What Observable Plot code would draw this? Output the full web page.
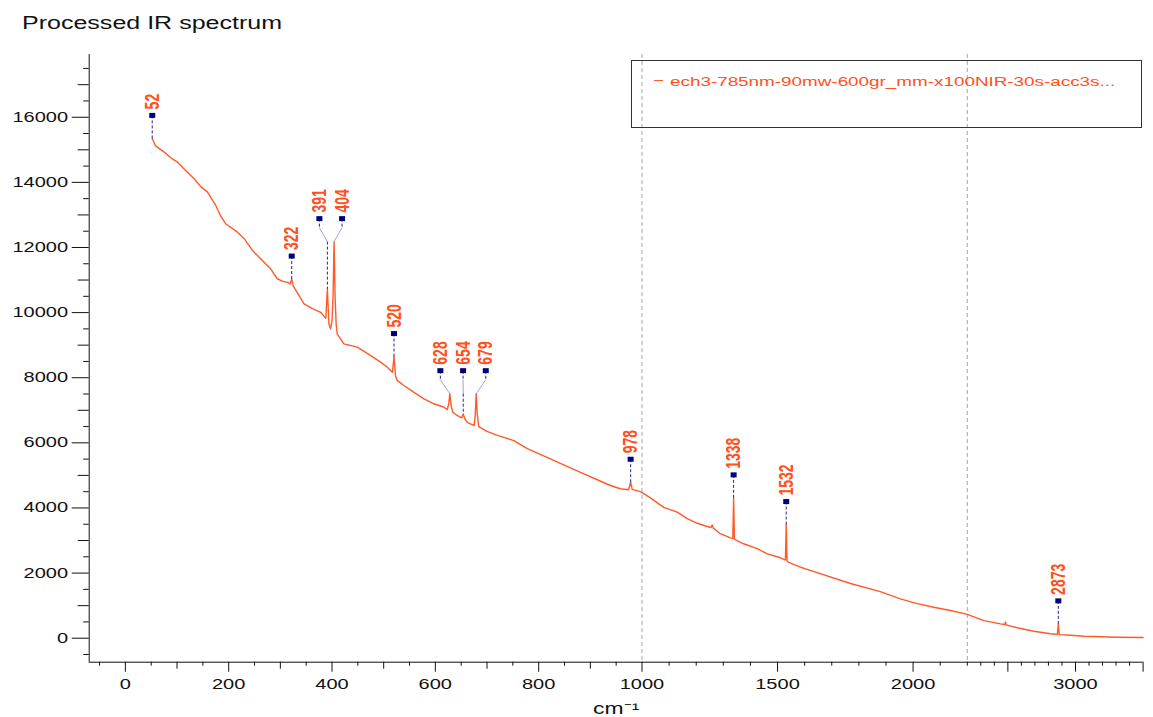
<!DOCTYPE html>
<html><head><meta charset="utf-8">
<script src="https://cdn.jsdelivr.net/npm/d3@7"></script>
<script src="https://cdn.jsdelivr.net/npm/@observablehq/plot@0.6"></script>
<style>
html,body{margin:0;padding:0;background:#fff;}
#wrap{position:relative;width:1153px;height:717px;overflow:hidden;font-family:"Liberation Sans",Arial,sans-serif;}
#chart{position:absolute;left:0;top:0;}
#title{position:absolute;left:22px;top:14px;font-size:18px;line-height:18px;color:#111;transform:scaleX(1.39);transform-origin:0 0;white-space:nowrap;}
#legend{position:absolute;left:631px;top:60px;width:511px;height:68px;border:1px solid #333;box-sizing:border-box;}
#legend .dash{position:absolute;left:22px;top:19px;width:9px;height:1px;background:#ff5a28;}
#legend .name{position:absolute;left:38px;top:14px;font-size:13px;line-height:13px;color:#ff5020;transform:scaleX(1.45);transform-origin:0 0;white-space:nowrap;}
</style>
</head><body>
<div id="wrap">
  <div id="chart"></div>
  <div id="title"></div>
  <div id="legend"><div class="dash"></div><div class="name"></div></div>
</div>
<script>
// ---------- data ----------
const titleText = "Processed IR spectrum";
const seriesName = "ech3-785nm-90mw-600gr_mm-x100NIR-30s-acc3s...";
const xLabel = "cm⁻¹";

const wavenumber = [52,58,75,91,101,117,133,146,159,175,184,194,217,230,246,265,281,294,305,314,319,322,325,330,346,362,378,386,388,391,394,397,400,402,404,406,408,410,423,449,475,494,507,517,520,523,526,539,558,578,597,616,623,626,628,631,634,642,651,654,657,662,675,677,679,681,684,700,720,752,778,813,842,881,920,939,958,974,978,981,997,1031,1080,1130,1167,1204,1240,1255,1259,1263,1289,1326,1335,1338,1341,1345,1375,1425,1462,1511,1529,1532,1535,1541,1585,1615,1769,1879,1953,2015,2076,2138,2200,2322,2446,2478,2482,2486,2569,2692,2815,2866,2873,2880,2938,3061,3185,3308,3500];
const intensity  = [15350,15130,14930,14720,14620,14360,14110,13870,13700,13290,12980,12730,12470,12270,11910,11600,11350,11040,10960,10930,10880,11030,10820,10680,10270,10120,10010,9860,9830,10730,9650,9500,9750,10500,12180,10450,9650,9350,9040,8940,8680,8480,8320,8170,8650,8050,7920,7760,7560,7350,7200,7100,7020,7200,7510,7100,6940,6840,6770,6880,6740,6630,6530,6800,7480,6900,6500,6350,6230,6070,5820,5580,5370,5090,4820,4690,4590,4560,4790,4570,4500,4310,4020,3870,3670,3530,3430,3400,3480,3380,3210,3080,3060,4310,3040,3020,2900,2750,2590,2470,2400,3490,2370,2330,2180,2100,1680,1430,1210,1060,950,850,730,540,440,420,500,410,320,215,135,115,440,110,100,60,45,30,20];

const peakLabels = [52,322,391,404,520,628,654,679,978,1338,1532,2873];

const axisBreaks = [1000,2200];
const xDomain = [-70,1000,2200,3500];
const yDomain = [-737,17927];

const xTicksLabeled = [0,200,400,600,800,1000,1500,2000,3000];
const xTicksMajorPlain = [2500,3500];
const xTicksMedium = [100,300,500,700,900];
const xTicksMinor = [-50,50,150,250,350,450,550,650,750,850,950,1100,1200,1300,1400,1600,1700,1800,1900,2100,2200,2300,2400,2600,2700,2800,2900,3100,3200,3300,3400];
const yTicksLabeled = [0,2000,4000,6000,8000,10000,12000,14000,16000];
const yTicksMid = [1000,3000,5000,7000,9000,11000,13000,15000,17000];
const yTicksMinor = [-500,500,1500,2500,3500,4500,5500,6500,7500,8500,9500,10500,11500,12500,13500,14500,15500,16500,17500];

// ---------- layout ----------
const W = 1153, H = 717;
const xRange = [88.7,641.5,966.8,1142.6];
const yRange = [661.7,54];
const sx = d3.scaleLinear(xDomain, xRange);
const sy = d3.scaleLinear(yDomain, yRange);

const spectrum = wavenumber.map((x,i) => ({x, y: intensity[i]}));

const peaks = peakLabels.map(p => {
  const top = d3.max(spectrum.filter(d => Math.abs(d.x - p) <= 3), d => d.y);
  return {p, top, px: sx(p), py: sy(top)};
});
const groups = [];
for (const pk of peaks) {
  const g = groups[groups.length - 1];
  if (g && pk.px - g[g.length - 1].px < 15) g.push(pk); else groups.push([pk]);
}
const SPREAD = 22.7, RISE = 23, KNEE = 9;
for (const g of groups) {
  const c = d3.mean(g, d => d.px);
  const my = d3.min(g, d => d.py) - RISE;
  g.forEach((d,i) => { d.mx = g.length > 1 ? c + (i - (g.length - 1)/2) * SPREAD : d.px; d.my = my; d.grouped = g.length > 1; });
}
const seg = (xa,ya,xb,yb) => ({x1: sx.invert(xa), y1: sy.invert(ya), x2: sx.invert(xb), y2: sy.invert(yb)});
const dashed = [], slants = [];
for (const d of peaks) {
  if (!d.grouped) { dashed.push(seg(d.px, d.my, d.px, d.py)); continue; }
  dashed.push(seg(d.mx, d.my, d.mx, d.my + KNEE));
  slants.push(seg(d.mx, d.my + KNEE, d.px, d.my + RISE));
  if (d.py > d.my + RISE) dashed.push(seg(d.px, d.my + RISE, d.px, d.py));
}
const rectSymbol = {draw(ctx) { ctx.rect(-3, -2.5, 6, 5); }};
const AX = "#111";
const noText = () => "";

const svg = Plot.plot({
  width: W, height: H,
  marginLeft: xRange[0], marginRight: W - xRange[3], marginTop: yRange[1], marginBottom: H - yRange[0],
  x: {type: "linear", domain: xDomain, range: xRange},
  y: {type: "linear", domain: yDomain, range: yRange},
  style: {fontFamily: '"Liberation Sans", Arial, sans-serif', background: "transparent"},
  marks: [
    Plot.ruleX(axisBreaks, {stroke: "#a8a8a8", strokeDasharray: "4,3", strokeWidth: 1}),
    Plot.line(spectrum, {x: "x", y: "y", stroke: "#ff5a28", strokeWidth: 1.4}),
    Plot.link(slants, {x1: "x1", y1: "y1", x2: "x2", y2: "y2", stroke: "#a4a4d8", strokeWidth: 1}),
    Plot.link(dashed, {x1: "x1", y1: "y1", x2: "x2", y2: "y2", stroke: "#22228c", strokeDasharray: "3,2", strokeWidth: 1}),
    Plot.dot(peaks, {x: d => sx.invert(d.mx), y: d => sy.invert(d.my), symbol: rectSymbol, fill: "#000078"}),
    Plot.text(peaks, {x: d => sx.invert(d.mx), y: d => sy.invert(d.my - 6), text: d => String(d.p), rotate: -90, textAnchor: "start", fill: "#ff5020", fontWeight: "bold", fontSize: 14}),
    Plot.ruleX([xDomain[0]], {stroke: AX, strokeWidth: 1}),
    Plot.ruleY([yDomain[0]], {stroke: AX, strokeWidth: 1}),
    Plot.axisX(xTicksLabeled, {tickSize: 10, tickPadding: 7, fontSize: 14, color: AX, label: null, tickFormat: d => String(d)}),
    Plot.axisX(xTicksMajorPlain, {tickSize: 10, color: AX, label: null, tickFormat: noText}),
    Plot.axisX(xTicksMedium, {tickSize: 7, color: AX, label: null, tickFormat: noText}),
    Plot.axisX(xTicksMinor, {tickSize: 4, color: AX, label: null, tickFormat: noText}),
    Plot.axisY(yTicksLabeled, {tickSize: 17, tickPadding: 4, fontSize: 14, color: AX, label: null, tickFormat: d => String(d)}),
    Plot.axisY(yTicksMid, {tickSize: 11, color: AX, label: null, tickFormat: noText}),
    Plot.axisY(yTicksMinor, {tickSize: 5.5, color: AX, label: null, tickFormat: noText}),
    Plot.text([xLabel], {frameAnchor: "bottom", dy: 52, fontSize: 16, fill: AX})
  ]
});
document.getElementById("chart").appendChild(svg);
document.getElementById("title").textContent = titleText;
document.querySelector("#legend .name").textContent = seriesName;

// horizontal stretch of glyphs (the reference is rendered with wide text)
function stretchText(root, k) {
  const ns = "http://www.w3.org/2000/svg";
  Array.from(root.querySelectorAll("text")).forEach(t => {
    if (!t.textContent) return;
    const parent = t.parentNode;
    const r = t.getBoundingClientRect();
    const tr = t.getAttribute("transform") || "";
    const anchor = getComputedStyle(t).textAnchor;
    const px = (tr.includes("rotate") || anchor === "middle") ? (r.left + r.right) / 2 : anchor === "end" ? r.right : r.left;
    const pt = root.createSVGPoint(); pt.x = px; pt.y = r.top;
    const lx = pt.matrixTransform(parent.getScreenCTM().inverse()).x;
    const g = document.createElementNS(ns, "g");
    g.setAttribute("transform", `translate(${lx},0) scale(${k},1) translate(${-lx},0)`);
    parent.insertBefore(g, t); g.appendChild(t);
  });
}
stretchText(svg, 1.43);
</script>
</body></html>
